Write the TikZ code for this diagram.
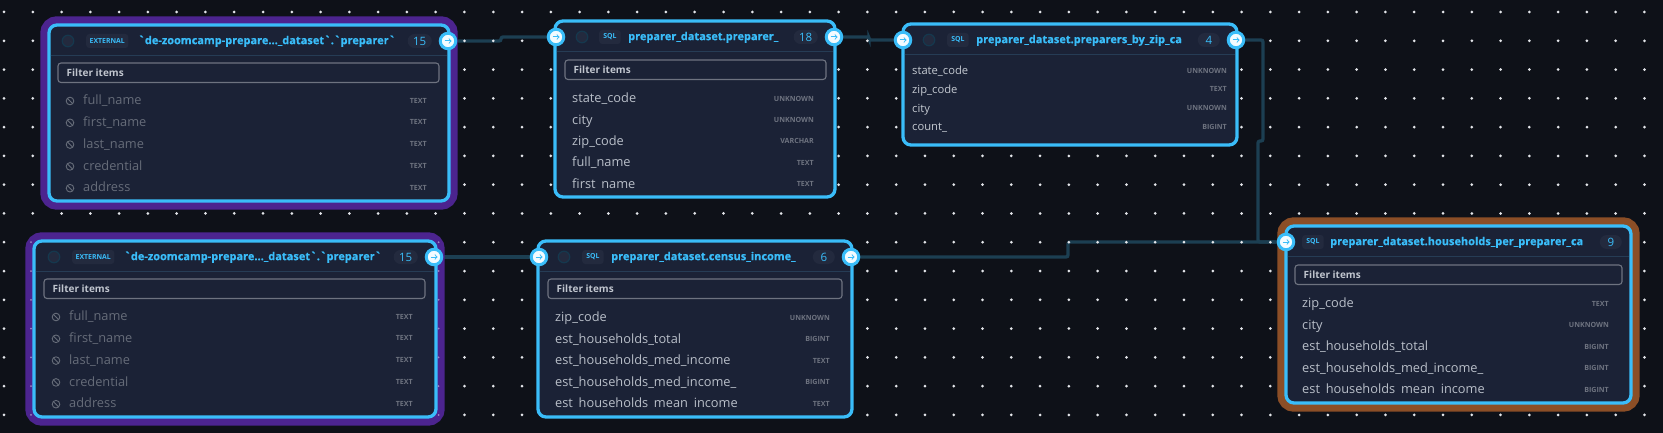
\documentclass[tikz,border=0pt]{standalone}
\usepackage{fontspec}
\usetikzlibrary{arrows}
\newfontfamily\uifont{Open Sans}
\newfontfamily\headfont[BoldFeatures={FakeBold=0.5}]{Open Sans}
\definecolor{canvasbg}{HTML}{0E1118}
\definecolor{griddot}{HTML}{E4E6EA}
\definecolor{cardbg}{HTML}{1B2236}
\definecolor{skyline}{HTML}{3ABDF9}
\definecolor{linkblue}{HTML}{1C3F52}
\definecolor{sepblue}{HTML}{263C55}
\definecolor{dotring}{HTML}{15384E}
\definecolor{haloviolet}{HTML}{4C248F}
\definecolor{halobrown}{HTML}{8B4E26}
\definecolor{chipbg}{HTML}{232A3E}
\definecolor{rowtext}{HTML}{B9BFC9}
\definecolor{rowmuted}{HTML}{666C79}
\definecolor{typetext}{HTML}{6E7380}
\tikzset{>=to}
\pgfdeclarelayer{canvas}
\pgfdeclarelayer{linklayer}
\pgfsetlayers{canvas,linklayer,main}
\tikzset{
  cardbox/.style={draw=skyline,fill=cardbg,line width=3.3pt,rounded corners=8pt,anchor=north west,outer sep=0pt,inner sep=0pt},
  halo/.style={preaction={draw=#1,line width=17.4pt}},
  porthandle/.style={circle,draw=skyline,fill=white!94!skyline,line width=3pt,minimum size=15.5pt,inner sep=0pt},
  portarrow/.style={->,skyline,line width=1pt},
  linkline/.style={draw=linkblue,line width=3.3pt,rounded corners=2pt},
  sepline/.style={draw=sepblue,line width=0.9pt},
  statusdot/.style={circle,draw=dotring,fill=chipbg,line width=1.2pt,minimum size=11.5pt,inner sep=0pt},
  badge/.style={fill=chipbg,rounded corners=3pt,anchor=west,minimum height=14pt,minimum width=21.5pt,inner xsep=3.5pt,inner ysep=0pt,text=skyline,font=\uifont\bfseries\fontsize{6.9}{8}\selectfont},
  titletext/.style={anchor=mid west,yshift=-1pt,inner sep=0pt,text=skyline,font=\headfont\bfseries\fontsize{11}{12}\selectfont},
  pill/.style={fill=chipbg,rounded corners=7pt,anchor=east,minimum height=14pt,minimum width=22pt,inner xsep=5.5pt,inner ysep=0pt,text=skyline,font=\uifont\fontsize{11.5}{12}\selectfont},
  filterbox/.style={draw=typetext,line width=1.1pt,rounded corners=3pt,anchor=north west,minimum height=19.5pt,inner sep=0pt,outer sep=0pt},
  filtertext/.style={anchor=mid west,yshift=-2pt,inner sep=0pt,text=rowtext!90!white,font=\uifont\bfseries\fontsize{10}{12}\selectfont},
  rowname/.style={anchor=mid west,yshift=-1.5pt,inner sep=0pt,text=rowtext,font=\uifont\fontsize{12.8}{14}\selectfont},
  rowoff/.style={rowname,text=rowmuted},
  rowsmall/.style={rowname,text=rowtext!85!white,font=\uifont\fontsize{11.2}{13}\selectfont},
  rowtype/.style={anchor=mid east,inner sep=0pt,text=typetext,font=\uifont\bfseries\fontsize{7.1}{8}\selectfont},
  banicon/.style={draw=rowmuted,line width=0.9pt}
}
% card head: id, badge x, badge text, title x, title, pill inset, count
\newcommand{\cardHead}[7]{
  \draw[sepline] ([shift={(1.7,30.5)}]#1.north west) -- ([shift={(-1.7,30.5)}]#1.north east);
  \node[badge] (#1-badge) at ([shift={(#2,16)}]#1.north west) {#3};
  \node[titletext] (#1-title) at ([shift={(#4,16)}]#1.north west) {#5};
  \node[pill] (#1-count) at ([shift={(-#6,16)}]#1.north east) {#7};
}
% filter field: id, x, y, width
\newcommand{\cardFilter}[4]{
  \node[filterbox,minimum width=#4pt] (#1-filter) at ([shift={(#2,#3)}]#1.north west) {};
  \node[filtertext] (#1-filtertext) at ([xshift=8.5pt]#1-filter.west) {Filter items};
}
% rows: id, style, name x, type inset, first y, step, cut, rows
\newcommand{\cardRows}[8]{
  \begin{scope}
    \clip ([shift={(0,#7)}]#1.north west) rectangle ([shift={(0,0)}]#1.north east);
    \foreach \rowName/\rowType [count=\i] in {#8}{
      \node[#2] (#1-row\i) at ([shift={(#3,{#5+(\i-1)*#6})}]#1.north west) {\rowName};
      \node[rowtype] (#1-type\i) at ([shift={(-#4,{#5+(\i-1)*#6})}]#1.north east) {\rowType};
    }
  \end{scope}
}
% hidden column marks: id, x, first y
\newcommand{\cardBans}[3]{
  \foreach \i in {1,...,5}{
    \coordinate (#1-ban\i) at ([shift={(#2,{#3+(\i-1)*21.8})}]#1.north west);
    \draw[banicon] (#1-ban\i) circle (3.8pt);
    \draw[banicon] ([shift={(-2.7,-2.7)}]#1-ban\i) -- ([shift={(2.7,2.7)}]#1-ban\i);
  }
}
% handle: name, position
\newcommand{\cardPort}[2]{
  \node[porthandle] (#1) at #2 {};
  \draw[portarrow] ([xshift=-3.4pt]#1.center) -- ([xshift=3.6pt]#1.center);
}
\begin{document}
\begin{tikzpicture}[x=1pt,y=-1pt]

\begin{pgfonlayer}{canvas}
\fill[canvasbg] (0,0) rectangle (1663,433);
\end{pgfonlayer}
\path[use as bounding box] (0,0) rectangle (1663,433);

% dot grid:
\foreach \i in {0,...,57}
  \foreach \j in {0,...,14}
    \fill[griddot] ({4+28.78*\i},{12+28.78*\j}) circle (1.5pt);

% external tables:
\node[cardbox,halo=haloviolet,minimum width=400pt,minimum height=176pt] (extA) at (49,25) {};
\cardHead{extA}{37}{EXTERNAL}{89}{`de-zoomcamp-prepare...\_dataset`.`preparer`}{17}{15}
\node[statusdot] (extA-dot) at ([shift={(19,16)}]extA.north west) {};
\cardFilter{extA}{9}{38}{381}
\cardBans{extA}{21}{76}
\cardRows{extA}{rowoff}{34}{22}{76}{21.8}{166}{full\_name/TEXT,first\_name/TEXT,last\_name/TEXT,credential/TEXT,address/TEXT}

\node[cardbox,halo=haloviolet,minimum width=402pt,minimum height=176pt] (extB) at (34,241) {};
% grid showing through the halo:
\foreach \x in {31,438.6}
  \foreach \j in {8,...,14}
    \fill[haloviolet!55!white] (\x,{12+28.78*\j}) circle (1pt);
\cardHead{extB}{38}{EXTERNAL}{90}{`de-zoomcamp-prepare...\_dataset`.`preparer`}{18}{15}
\node[statusdot] (extB-dot) at ([shift={(20,16)}]extB.north west) {};
\cardFilter{extB}{10}{38}{381}
\cardBans{extB}{22}{76}
\cardRows{extB}{rowoff}{35}{23}{76}{21.8}{166}{full\_name/TEXT,first\_name/TEXT,last\_name/TEXT,credential/TEXT,address/TEXT}

% sql models:
\node[cardbox,minimum width=280pt,minimum height=176pt] (prep) at (555,21) {};
\cardHead{prep}{44}{SQL}{73}{preparer\_dataset.preparer\_}{17}{18}
\node[statusdot] (prep-dot) at ([shift={(27,16)}]prep.north west) {};
\cardFilter{prep}{10}{39}{261}
\cardRows{prep}{rowname}{17}{21}{78}{21.4}{167}{state\_code/UNKNOWN,city/UNKNOWN,zip\_code/VARCHAR,full\_name/TEXT,first\_name/TEXT}

\node[cardbox,minimum width=334pt,minimum height=121pt] (zipca) at (903,24) {};
\cardHead{zipca}{44}{SQL}{73}{preparer\_dataset.preparers\_by\_zip\_ca}{17}{4}
\node[statusdot] (zipca-dot) at ([shift={(26,16)}]zipca.north west) {};
\cardRows{zipca}{rowsmall}{9}{10}{47}{18.7}{115}{state\_code/UNKNOWN,zip\_code/TEXT,city/UNKNOWN,count\_/BIGINT}

\node[cardbox,minimum width=314pt,minimum height=176pt] (census) at (538,241) {};
\cardHead{census}{44}{SQL}{73}{preparer\_dataset.census\_income\_}{17}{6}
\node[statusdot] (census-dot) at ([shift={(26,16)}]census.north west) {};
\cardFilter{census}{10}{38}{294}
\cardRows{census}{rowname}{17}{22}{77}{21.5}{166.5}{zip\_code/UNKNOWN,est\_households\_total/BIGINT,est\_households\_med\_income/TEXT,est\_households\_med\_income\_/BIGINT,est\_households\_mean\_income/TEXT}

\node[cardbox,halo=halobrown,minimum width=345pt,minimum height=177pt] (house) at (1286,226) {};
\cardHead{house}{16}{SQL}{44}{preparer\_dataset.households\_per\_preparer\_ca}{9}{9}
\cardFilter{house}{9}{39}{327}
\cardRows{house}{rowname}{16}{22}{78}{21.5}{167.5}{zip\_code/TEXT,city/UNKNOWN,est\_households\_total/BIGINT,est\_households\_med\_income\_/BIGINT,est\_households\_mean\_income/BIGINT}

% handles:
\cardPort{extAout}{(448,41)}
\cardPort{extBout}{(434,257)}
\cardPort{prepin}{(556,37)}
\cardPort{prepout}{(834,37)}
\cardPort{zipcain}{(903,40)}
\cardPort{zipcaout}{(1236,40)}
\cardPort{censusin}{(539,257)}
\cardPort{censusout}{(851,257)}
\cardPort{housein}{(1286,242)}

% links:
\coordinate (jogA) at (501,37);
\coordinate (jogB) at (869,40);
\coordinate (jogC) at (1263,141);
\coordinate (jogD) at (1258,242);
\coordinate (jogE) at (1068,242);
\begin{pgfonlayer}{linklayer}
\draw[linkline] (extAout.center) -| (jogA) -- (prepin.center);
\draw[linkline] (prepout.center) -| (jogB) -- (zipcain.center);
\draw[linkline] (zipcaout.center) -| (jogC) -| (jogD) -- (housein.center);
\draw[linkline] (extBout.center) -- (censusin.center);
\draw[linkline] (censusout.center) -| (jogE) -- (housein.center);
\end{pgfonlayer}

\end{tikzpicture}
\end{document}
